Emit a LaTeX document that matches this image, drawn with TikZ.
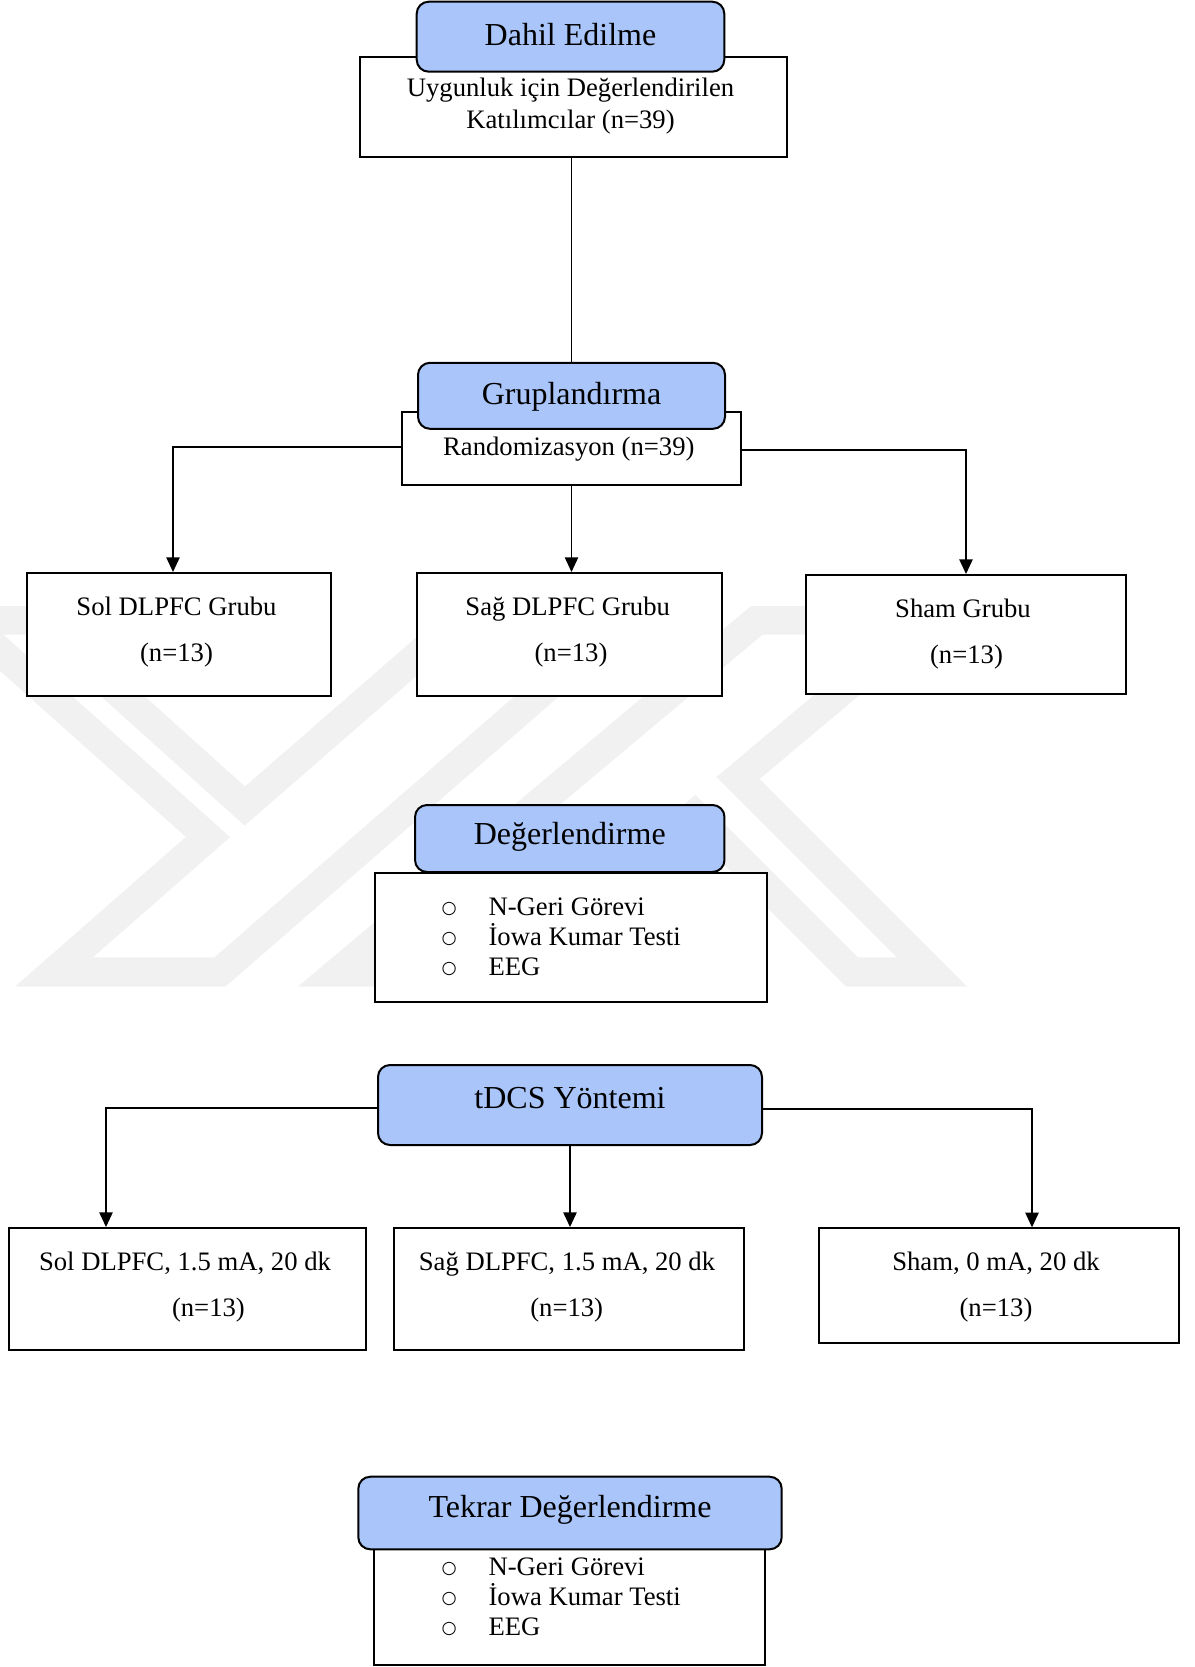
\documentclass[tikz,border=0pt]{standalone}
\usepackage{fontspec}
\setmainfont{Liberation Serif}
\newfontfamily\bulletfont{DejaVu Sans}
\usetikzlibrary{arrows.meta,calc}
\definecolor{hdrblue}{RGB}{169,197,250}
\definecolor{wmgray}{RGB}{241,241,241}
\newcommand{\listbullet}{\makebox[12pt][c]{\raisebox{0.8pt}{\fontsize{13}{13}\bulletfont ○}}\hspace{23.5pt}}
\begin{document}
\begin{tikzpicture}[x=0.75pt,y=-0.75pt,
  hdr/.style={draw=black,line width=1.5pt,fill=hdrblue,rounded corners=9pt,inner sep=0pt,font=\fontsize{24}{28}\selectfont,text depth=0pt},
  wbox/.style={draw=black,line width=1.5pt,fill=white,inner sep=0pt},
  txt/.style={inner sep=0pt,anchor=base,font=\fontsize{20}{24}\selectfont},
  item/.style={inner sep=0pt,anchor=base west,font=\fontsize{20}{24}\selectfont},
  conn/.style={draw=black,line width=1.1pt},
  arr/.style={conn,-{Triangle[length=11pt,width=10pt]}},
  wm/.style={draw=wmgray,line width=22pt,line join=miter}]
\useasboundingbox (0,0) rectangle (1195,1667);

% faint background watermark
\begin{scope}
\clip (0,606) rectangle (1195,986);
\draw[wm] (53.9,972) -- (208,837) -- (-35,620) -- (38,620) -- (244.8,806) -- (458.5,620) -- (624.5,620) -- (219.9,972) -- cycle;
\draw[wm] (338.1,972) -- (757.2,620) -- (926.2,620) -- (738,778) -- (932,972) -- (852,972) -- (694.6,814.6) -- (507.1,972) -- cycle;
\end{scope}

% Dahil Edilme
\node[wbox,minimum width=320pt,minimum height=75pt] (b1) at (573.3,106.7) {};
\node[hdr,minimum width=230.7pt,minimum height=52.5pt,text height=13.35pt] (h1) at (570.5,36.7) {Dahil Edilme\hspace{4pt}};
\node[txt] (b1a) at (570.5,96.7) {Uygunluk için Değerlendirilen};
\node[txt] (b1b) at (570.5,128.3) {Katılımcılar (n=39)};

% Gruplandirma
\node[wbox,minimum width=254.25pt,minimum height=54.75pt] (b2) at (571.5,448.5) {};
\node[hdr,minimum width=230.25pt,minimum height=49.5pt,text height=12.75pt] (h2) at (571.5,395.8) {Gruplandırma\hspace{4pt}};
\node[txt] (b2a) at (568.8,455) {Randomizasyon (n=39)};

% groups
\node[wbox,minimum width=228pt,minimum height=92.25pt] (s1) at (179,634.5) {};
\node[txt] (s1a) at (176.5,615) {Sol DLPFC Grubu};
\node[txt] (s1b) at (176.5,661.7) {(n=13)};
\node[wbox,minimum width=228.4pt,minimum height=92.25pt] (s2) at (569.75,634.5) {};
\node[txt] (s2a) at (567.7,615) {Sağ DLPFC Grubu};
\node[txt] (s2b) at (571,661.7) {(n=13)};
\node[wbox,minimum width=240pt,minimum height=89.25pt] (s3) at (966,634.5) {};
\node[txt] (s3a) at (963,617.3) {Sham Grubu};
\node[txt] (s3b) at (966.5,663.3) {(n=13)};

% Degerlendirme
\node[wbox,minimum width=293.8pt,minimum height=96.5pt] (b3) at (570.85,937.65) {};
\node[hdr,minimum width=232.1pt,minimum height=50.25pt,text height=8.25pt] (h3) at (569.75,838.5) {Değerlendirme\hspace{4pt}};
\node[item] (b3a) at (441,915) {\listbullet N-Geri Görevi};
\node[item] (b3b) at (441,945) {\listbullet İowa Kumar Testi};
\node[item] (b3c) at (441,975) {\listbullet EEG};

% tDCS
\node[hdr,minimum width=288pt,minimum height=60pt,text height=4.65pt] (h4) at (570,1105) {tDCS Yöntemi\hspace{4pt}};
\node[wbox,minimum width=267.75pt,minimum height=91.1pt] (t1) at (187.5,1288.75) {};
\node[txt] (t1a) at (185,1270.7) {Sol DLPFC, 1.5 mA, 20 dk};
\node[txt] (t1b) at (208.4,1316.7) {(n=13)};
\node[wbox,minimum width=262.2pt,minimum height=91.1pt] (t2) at (569.2,1288.75) {};
\node[txt] (t2a) at (567,1270.7) {Sağ DLPFC, 1.5 mA, 20 dk};
\node[txt] (t2b) at (566.7,1316.7) {(n=13)};
\node[wbox,minimum width=270pt,minimum height=86.25pt] (t3) at (999,1285.8) {};
\node[txt] (t3a) at (996,1270.7) {Sham, 0 mA, 20 dk};
\node[txt] (t3b) at (996,1316.7) {(n=13)};

% Tekrar Degerlendirme
\node[wbox,minimum width=293.6pt,minimum height=87pt] (b5) at (569.75,1607) {};
\node[hdr,minimum width=317.55pt,minimum height=54.45pt,text height=6.45pt] (h5) at (570,1513) {Tekrar Değerlendirme\hspace{4pt}};
\node[item] (b5a) at (441,1575) {\listbullet N-Geri Görevi};
\node[item] (b5b) at (441,1605) {\listbullet İowa Kumar Testi};
\node[item] (b5c) at (441,1635) {\listbullet EEG};

% connectors
\draw[conn] (h2.north |- b1.south) -- (h2.north);
\draw[arr] ($(b2.west)+(0,-1.5)$) -| ($(s1.north)+(-6,0)$);
\draw[arr] ($(b2.east)+(0,1.5)$) -| (s3.north);
\draw[arr] (b2.south) -- (b2.south |- s2.north);
\draw[arr] ($(h4.west)+(0,3)$) -| ($(t1.north)+(-81.5,0)$);
\draw[arr] ($(h4.east)+(0,4)$) -| ($(t3.north)+(33,0)$);
\draw[arr] (h4.south) -- (h4.south |- t2.north);
\end{tikzpicture}
\end{document}
